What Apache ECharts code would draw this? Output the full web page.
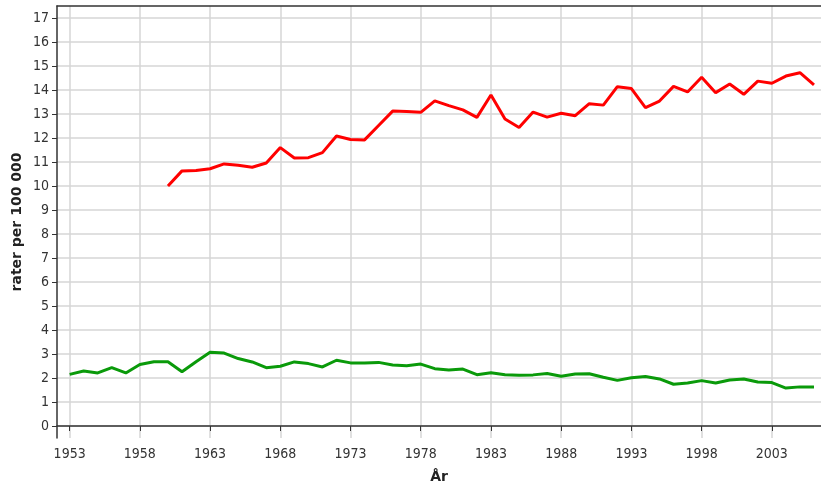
<!DOCTYPE html>
<html>
<head>
<meta charset="utf-8">
<script src="https://cdn.jsdelivr.net/npm/echarts@6/dist/echarts.min.js"></script>
<style>
  html, body { margin: 0; padding: 0; background: #fff; }
  #chart { width: 821px; height: 492px; }
</style>
</head>
<body>
<div id="chart"></div>
<script>
// år
const years = [];
for (let y = 1953; y <= 2006; y++) years.push(y);

// röd serie, börjar 1960
const redYears = years.filter(y => y >= 1960);
const redValues = [
  10.0, 10.63, 10.65, 10.72, 10.92, 10.86, 10.78, 10.96, 11.6, 11.17,
  11.18, 11.39, 12.08, 11.94, 11.92, 12.52, 13.12, 13.1, 13.07, 13.55,
  13.35, 13.17, 12.86, 13.79, 12.79, 12.44, 13.08, 12.87, 13.03, 12.93,
  13.43, 13.37, 14.14, 14.06, 13.27, 13.54, 14.15, 13.92, 14.53, 13.89,
  14.25, 13.82, 14.37, 14.28, 14.58, 14.72, 14.21
];

// grön serie, 1953-2006
const greenValues = [
  2.15, 2.29, 2.21, 2.43, 2.21, 2.56, 2.68, 2.68, 2.26, 2.68,
  3.07, 3.04, 2.81, 2.67, 2.43, 2.49, 2.67, 2.6, 2.46, 2.74,
  2.63, 2.62, 2.65, 2.54, 2.51, 2.58, 2.39, 2.33, 2.37, 2.14,
  2.22, 2.14, 2.11, 2.13, 2.19, 2.07, 2.17, 2.18, 2.03, 1.9,
  2.01, 2.06, 1.96, 1.74, 1.79, 1.89, 1.79, 1.92, 1.96, 1.83,
  1.81, 1.58, 1.63, 1.63
];

const xTicks = [1953, 1958, 1963, 1968, 1973, 1978, 1983, 1988, 1993, 1998, 2003];
const yTicks = [0, 1, 2, 3, 4, 5, 6, 7, 8, 9, 10, 11, 12, 13, 14, 15, 16, 17];

const pair = (xs, vs) => xs.map((x, i) => [x, vs[i]]);

const font = 'DejaVu Sans Condensed, DejaVu Sans, sans-serif';
const titleFont = 'DejaVu Sans, sans-serif';
const gridColor = '#d6d6d6';
const axisColor = '#333';

let chart = echarts.init(document.getElementById('chart'), null, { renderer: 'canvas' });
let option = {
  animation: false,
  backgroundColor: '#fff',
  grid: { left: 57, right: 0, top: 6, bottom: 54, containLabel: false },
  xAxis: [
    {
      type: 'value',
      min: 1952.1,
      max: 2006.5,
      name: 'År',
      nameLocation: 'middle',
      nameGap: 32,
      nameTextStyle: { fontFamily: titleFont, fontSize: 14, fontWeight: 'bold', color: '#222' },
      axisLine: { show: true, lineStyle: { color: axisColor, width: 1.5 } },
      axisTick: { show: true, length: 5, customValues: xTicks, lineStyle: { color: axisColor } },
      axisLabel: {
        customValues: xTicks, margin: 9,
        fontFamily: font, fontSize: 14, color: '#333',
        formatter: v => String(v)
      },
      splitLine: { show: true, lineStyle: { color: gridColor, width: 1.5 } }
    },
    {
      type: 'value',
      position: 'top',
      min: 1952.1,
      max: 2006.5,
      axisLine: { show: true, onZero: false, lineStyle: { color: axisColor, width: 1.5 } },
      axisTick: { show: false },
      axisLabel: { show: false },
      splitLine: { show: false }
    }
  ],
  yAxis: {
    type: 'value',
    min: -0.5,
    max: 17.5,
    name: 'rater per 100 000',
    nameLocation: 'middle',
    nameGap: 33,
    nameMoveOverlap: false,
    nameTextStyle: { fontFamily: titleFont, fontSize: 14, fontWeight: 'bold', color: '#222' },
    axisLine: { show: true, onZero: false, lineStyle: { color: axisColor, width: 1.5 } },
    axisTick: { show: true, length: 5, customValues: yTicks, lineStyle: { color: axisColor } },
    axisLabel: { customValues: yTicks, margin: 8, fontFamily: font, fontSize: 14, color: '#333' },
    splitLine: { show: true, lineStyle: { color: gridColor, width: 1.5 } }
  },
  series: [
    {
      type: 'line',
      xAxisIndex: 0,
      data: pair(redYears, redValues),
      showSymbol: false,
      lineStyle: { color: '#ff0000', width: 3 },
      itemStyle: { color: '#ff0000' }
    },
    {
      type: 'line',
      xAxisIndex: 0,
      data: pair(years, greenValues),
      showSymbol: false,
      lineStyle: { color: '#0a9a0a', width: 3 },
      itemStyle: { color: '#0a9a0a' }
    }
  ]
};
chart.setOption(option);
</script>
</body>
</html>
